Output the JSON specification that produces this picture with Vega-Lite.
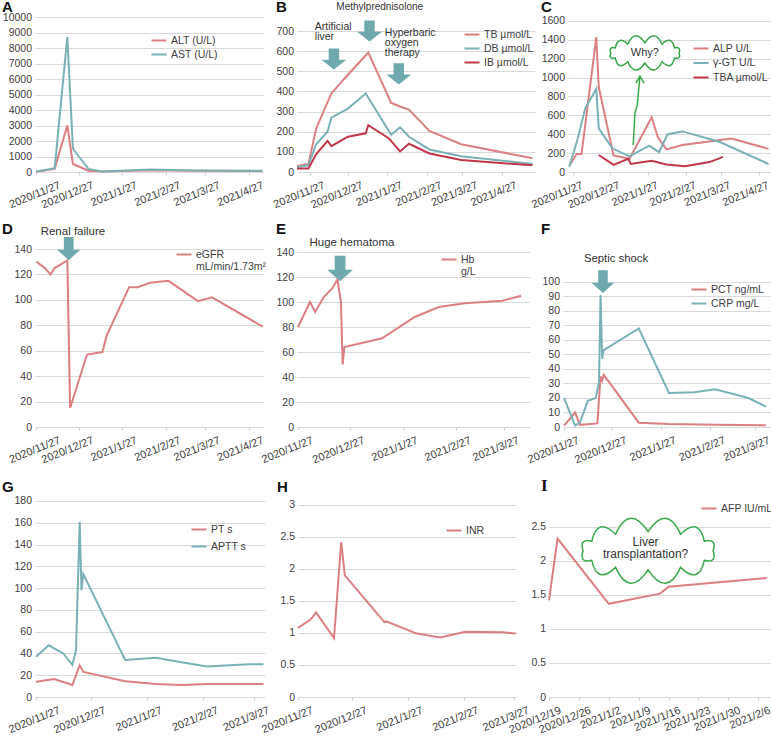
{
  "$schema": "https://vega.github.io/schema/vega-lite/v6.json",
  "padding": {"left": 2, "top": 0, "right": 0, "bottom": 0},
  "spacing": 12,
  "resolve": {"scale": {"color": "independent"}, "legend": {"color": "independent"}},
  "config": {
    "view": {"stroke": null},
    "font": "Liberation Sans, Arial, sans-serif",
    "axis": {"labelFont": "Liberation Sans, Arial, sans-serif", "labelColor": "#404040", "labelOverlap": false, "labelFlush": false, "labelBound": false, "domain": false, "gridColor": "#d9d9d9", "gridWidth": 1, "tickColor": "#cfcfcf"},
    "axisX": {"grid": false, "ticks": true, "tickSize": 3, "labelFontSize": 11, "labelAngle": -22, "labelAlign": "right", "labelBaseline": "top", "labelPadding": 4, "labelOffset": 12},
    "axisY": {"grid": true, "ticks": false, "labelFontSize": 10.5, "labelPadding": 3.5},
    "legend": {"orient": "none", "symbolType": "stroke", "symbolSize": 225, "symbolStrokeWidth": 2.5, "labelFont": "Liberation Sans, Arial, sans-serif", "labelFontSize": 10.5, "labelColor": "#404040", "labelOffset": 3.5, "padding": 0, "labelLimit": 200},
    "title": {"anchor": "start", "frame": "group", "baseline": "alphabetic", "font": "Liberation Sans", "fontSize": 15, "fontWeight": "bold", "color": "#111111"},
    "line": {"strokeWidth": 2},
    "text": {"font": "Liberation Sans, Arial, sans-serif", "fontSize": 11, "color": "#333333"}
  },
  "datasets": {
    "A": [
      {"date": "2020-11-27", "series": "ALT (U/L)", "value": 20},
      {"date": "2020-12-10", "series": "ALT (U/L)", "value": 200},
      {"date": "2020-12-19", "series": "ALT (U/L)", "value": 3000},
      {"date": "2020-12-23", "series": "ALT (U/L)", "value": 520},
      {"date": "2021-01-03", "series": "ALT (U/L)", "value": 80},
      {"date": "2021-01-13", "series": "ALT (U/L)", "value": 30},
      {"date": "2021-02-16", "series": "ALT (U/L)", "value": 120},
      {"date": "2021-03-20", "series": "ALT (U/L)", "value": 80},
      {"date": "2021-05-07", "series": "ALT (U/L)", "value": 60},
      {"date": "2020-11-27", "series": "AST (U/L)", "value": 30},
      {"date": "2020-12-10", "series": "AST (U/L)", "value": 250},
      {"date": "2020-12-19", "series": "AST (U/L)", "value": 8700},
      {"date": "2020-12-23", "series": "AST (U/L)", "value": 1500},
      {"date": "2021-01-03", "series": "AST (U/L)", "value": 200},
      {"date": "2021-01-13", "series": "AST (U/L)", "value": 40},
      {"date": "2021-02-16", "series": "AST (U/L)", "value": 160},
      {"date": "2021-03-20", "series": "AST (U/L)", "value": 100},
      {"date": "2021-05-07", "series": "AST (U/L)", "value": 80}
    ],
    "B": [
      {"date": "2020-11-17", "series": "TB µmol/L", "value": 30},
      {"date": "2020-11-26", "series": "TB µmol/L", "value": 40},
      {"date": "2020-12-02", "series": "TB µmol/L", "value": 215},
      {"date": "2020-12-14", "series": "TB µmol/L", "value": 390},
      {"date": "2020-12-27", "series": "TB µmol/L", "value": 483},
      {"date": "2021-01-12", "series": "TB µmol/L", "value": 593},
      {"date": "2021-01-30", "series": "TB µmol/L", "value": 343},
      {"date": "2021-02-06", "series": "TB µmol/L", "value": 325},
      {"date": "2021-02-13", "series": "TB µmol/L", "value": 310},
      {"date": "2021-03-01", "series": "TB µmol/L", "value": 204},
      {"date": "2021-03-26", "series": "TB µmol/L", "value": 138},
      {"date": "2021-05-21", "series": "TB µmol/L", "value": 68},
      {"date": "2020-11-17", "series": "DB µmol/L", "value": 25},
      {"date": "2020-11-26", "series": "DB µmol/L", "value": 33},
      {"date": "2020-12-02", "series": "DB µmol/L", "value": 138},
      {"date": "2020-12-11", "series": "DB µmol/L", "value": 200},
      {"date": "2020-12-14", "series": "DB µmol/L", "value": 270},
      {"date": "2020-12-27", "series": "DB µmol/L", "value": 315},
      {"date": "2021-01-10", "series": "DB µmol/L", "value": 390},
      {"date": "2021-01-30", "series": "DB µmol/L", "value": 185},
      {"date": "2021-02-06", "series": "DB µmol/L", "value": 222},
      {"date": "2021-02-13", "series": "DB µmol/L", "value": 175},
      {"date": "2021-03-01", "series": "DB µmol/L", "value": 112},
      {"date": "2021-03-26", "series": "DB µmol/L", "value": 78},
      {"date": "2021-05-21", "series": "DB µmol/L", "value": 40},
      {"date": "2020-11-17", "series": "IB µmol/L", "value": 18},
      {"date": "2020-11-26", "series": "IB µmol/L", "value": 18},
      {"date": "2020-12-02", "series": "IB µmol/L", "value": 88},
      {"date": "2020-12-11", "series": "IB µmol/L", "value": 155},
      {"date": "2020-12-14", "series": "IB µmol/L", "value": 128},
      {"date": "2020-12-27", "series": "IB µmol/L", "value": 175},
      {"date": "2021-01-10", "series": "IB µmol/L", "value": 192},
      {"date": "2021-01-12", "series": "IB µmol/L", "value": 232},
      {"date": "2021-01-28", "series": "IB µmol/L", "value": 168},
      {"date": "2021-02-06", "series": "IB µmol/L", "value": 102},
      {"date": "2021-02-13", "series": "IB µmol/L", "value": 140},
      {"date": "2021-03-01", "series": "IB µmol/L", "value": 92},
      {"date": "2021-03-26", "series": "IB µmol/L", "value": 60},
      {"date": "2021-05-21", "series": "IB µmol/L", "value": 33}
    ],
    "C": [
      {"date": "2020-11-24", "series": "ALP U/L", "value": 67},
      {"date": "2020-11-30", "series": "ALP U/L", "value": 190},
      {"date": "2020-12-04", "series": "ALP U/L", "value": 190},
      {"date": "2020-12-16", "series": "ALP U/L", "value": 1430},
      {"date": "2020-12-18", "series": "ALP U/L", "value": 900},
      {"date": "2020-12-30", "series": "ALP U/L", "value": 175},
      {"date": "2021-01-12", "series": "ALP U/L", "value": 140},
      {"date": "2021-01-30", "series": "ALP U/L", "value": 580},
      {"date": "2021-02-04", "series": "ALP U/L", "value": 370},
      {"date": "2021-02-11", "series": "ALP U/L", "value": 240},
      {"date": "2021-02-24", "series": "ALP U/L", "value": 285},
      {"date": "2021-04-05", "series": "ALP U/L", "value": 355},
      {"date": "2021-05-05", "series": "ALP U/L", "value": 245},
      {"date": "2020-11-24", "series": "γ-GT U/L", "value": 55},
      {"date": "2020-12-01", "series": "γ-GT U/L", "value": 357},
      {"date": "2020-12-07", "series": "γ-GT U/L", "value": 674},
      {"date": "2020-12-16", "series": "γ-GT U/L", "value": 880},
      {"date": "2020-12-18", "series": "γ-GT U/L", "value": 463},
      {"date": "2020-12-29", "series": "γ-GT U/L", "value": 251},
      {"date": "2021-01-12", "series": "γ-GT U/L", "value": 165},
      {"date": "2021-01-28", "series": "γ-GT U/L", "value": 280},
      {"date": "2021-02-05", "series": "γ-GT U/L", "value": 210},
      {"date": "2021-02-12", "series": "γ-GT U/L", "value": 400},
      {"date": "2021-02-24", "series": "γ-GT U/L", "value": 430},
      {"date": "2021-03-26", "series": "γ-GT U/L", "value": 320},
      {"date": "2021-05-05", "series": "γ-GT U/L", "value": 85},
      {"date": "2020-12-18", "series": "TBA µmol/L", "value": 180},
      {"date": "2020-12-30", "series": "TBA µmol/L", "value": 75},
      {"date": "2021-01-11", "series": "TBA µmol/L", "value": 140},
      {"date": "2021-01-13", "series": "TBA µmol/L", "value": 85},
      {"date": "2021-01-30", "series": "TBA µmol/L", "value": 120},
      {"date": "2021-02-11", "series": "TBA µmol/L", "value": 80},
      {"date": "2021-02-26", "series": "TBA µmol/L", "value": 60},
      {"date": "2021-03-18", "series": "TBA µmol/L", "value": 105},
      {"date": "2021-03-29", "series": "TBA µmol/L", "value": 160}
    ],
    "D": [
      {"date": "2020-11-27", "series": "eGFR|mL/min/1.73m²", "value": 130},
      {"date": "2020-12-03", "series": "eGFR|mL/min/1.73m²", "value": 125},
      {"date": "2020-12-07", "series": "eGFR|mL/min/1.73m²", "value": 120},
      {"date": "2020-12-10", "series": "eGFR|mL/min/1.73m²", "value": 125},
      {"date": "2020-12-19", "series": "eGFR|mL/min/1.73m²", "value": 131},
      {"date": "2020-12-21", "series": "eGFR|mL/min/1.73m²", "value": 15},
      {"date": "2021-01-02", "series": "eGFR|mL/min/1.73m²", "value": 57},
      {"date": "2021-01-13", "series": "eGFR|mL/min/1.73m²", "value": 59},
      {"date": "2021-01-16", "series": "eGFR|mL/min/1.73m²", "value": 72},
      {"date": "2021-02-01", "series": "eGFR|mL/min/1.73m²", "value": 110},
      {"date": "2021-02-07", "series": "eGFR|mL/min/1.73m²", "value": 110},
      {"date": "2021-02-16", "series": "eGFR|mL/min/1.73m²", "value": 113.5},
      {"date": "2021-03-01", "series": "eGFR|mL/min/1.73m²", "value": 115},
      {"date": "2021-03-22", "series": "eGFR|mL/min/1.73m²", "value": 99},
      {"date": "2021-04-01", "series": "eGFR|mL/min/1.73m²", "value": 102},
      {"date": "2021-05-07", "series": "eGFR|mL/min/1.73m²", "value": 79}
    ],
    "E": [
      {"date": "2020-11-27", "series": "Hb|g/L", "value": 80},
      {"date": "2020-12-04", "series": "Hb|g/L", "value": 100},
      {"date": "2020-12-07", "series": "Hb|g/L", "value": 92},
      {"date": "2020-12-12", "series": "Hb|g/L", "value": 104},
      {"date": "2020-12-17", "series": "Hb|g/L", "value": 111},
      {"date": "2020-12-20", "series": "Hb|g/L", "value": 118},
      {"date": "2020-12-22", "series": "Hb|g/L", "value": 100},
      {"date": "2020-12-23", "series": "Hb|g/L", "value": 50},
      {"date": "2020-12-24", "series": "Hb|g/L", "value": 64},
      {"date": "2021-01-15", "series": "Hb|g/L", "value": 71},
      {"date": "2021-02-03", "series": "Hb|g/L", "value": 88},
      {"date": "2021-02-17", "series": "Hb|g/L", "value": 96},
      {"date": "2021-03-04", "series": "Hb|g/L", "value": 99},
      {"date": "2021-03-26", "series": "Hb|g/L", "value": 101},
      {"date": "2021-04-06", "series": "Hb|g/L", "value": 105}
    ],
    "F": [
      {"date": "2020-11-27", "series": "PCT ng/mL", "value": 1},
      {"date": "2020-12-04", "series": "PCT ng/mL", "value": 10},
      {"date": "2020-12-07", "series": "PCT ng/mL", "value": 1.5},
      {"date": "2020-12-18", "series": "PCT ng/mL", "value": 2.5},
      {"date": "2020-12-20", "series": "PCT ng/mL", "value": 35},
      {"date": "2020-12-21", "series": "PCT ng/mL", "value": 32},
      {"date": "2020-12-22", "series": "PCT ng/mL", "value": 36},
      {"date": "2021-01-13", "series": "PCT ng/mL", "value": 3},
      {"date": "2021-02-01", "series": "PCT ng/mL", "value": 2},
      {"date": "2021-03-03", "series": "PCT ng/mL", "value": 1.5},
      {"date": "2021-04-03", "series": "PCT ng/mL", "value": 1.2},
      {"date": "2020-11-27", "series": "CRP mg/L", "value": 20},
      {"date": "2020-12-04", "series": "CRP mg/L", "value": 1},
      {"date": "2020-12-07", "series": "CRP mg/L", "value": 3},
      {"date": "2020-12-12", "series": "CRP mg/L", "value": 18},
      {"date": "2020-12-17", "series": "CRP mg/L", "value": 20},
      {"date": "2020-12-19", "series": "CRP mg/L", "value": 31},
      {"date": "2020-12-20", "series": "CRP mg/L", "value": 91},
      {"date": "2020-12-21", "series": "CRP mg/L", "value": 47},
      {"date": "2020-12-22", "series": "CRP mg/L", "value": 53},
      {"date": "2021-01-13", "series": "CRP mg/L", "value": 68},
      {"date": "2021-02-01", "series": "CRP mg/L", "value": 23.5},
      {"date": "2021-02-17", "series": "CRP mg/L", "value": 24},
      {"date": "2021-03-02", "series": "CRP mg/L", "value": 26},
      {"date": "2021-03-23", "series": "CRP mg/L", "value": 20},
      {"date": "2021-04-03", "series": "CRP mg/L", "value": 14}
    ],
    "G": [
      {"date": "2020-11-27", "series": "PT s", "value": 14},
      {"date": "2020-12-07", "series": "PT s", "value": 16.5},
      {"date": "2020-12-17", "series": "PT s", "value": 11},
      {"date": "2020-12-21", "series": "PT s", "value": 29},
      {"date": "2020-12-23", "series": "PT s", "value": 23},
      {"date": "2021-01-15", "series": "PT s", "value": 14.5},
      {"date": "2021-02-01", "series": "PT s", "value": 12},
      {"date": "2021-02-15", "series": "PT s", "value": 11},
      {"date": "2021-03-01", "series": "PT s", "value": 12},
      {"date": "2021-04-01", "series": "PT s", "value": 12},
      {"date": "2020-11-27", "series": "APTT s", "value": 37},
      {"date": "2020-12-04", "series": "APTT s", "value": 47.5},
      {"date": "2020-12-12", "series": "APTT s", "value": 40},
      {"date": "2020-12-17", "series": "APTT s", "value": 29.5},
      {"date": "2020-12-19", "series": "APTT s", "value": 43},
      {"date": "2020-12-21", "series": "APTT s", "value": 161},
      {"date": "2020-12-22", "series": "APTT s", "value": 98},
      {"date": "2020-12-23", "series": "APTT s", "value": 113},
      {"date": "2021-01-15", "series": "APTT s", "value": 34},
      {"date": "2021-02-01", "series": "APTT s", "value": 36},
      {"date": "2021-02-15", "series": "APTT s", "value": 32},
      {"date": "2021-03-01", "series": "APTT s", "value": 28},
      {"date": "2021-03-24", "series": "APTT s", "value": 30},
      {"date": "2021-04-01", "series": "APTT s", "value": 30}
    ],
    "H": [
      {"date": "2020-11-27", "series": "INR", "value": 1.08},
      {"date": "2020-12-04", "series": "INR", "value": 1.21},
      {"date": "2020-12-07", "series": "INR", "value": 1.32},
      {"date": "2020-12-17", "series": "INR", "value": 0.92},
      {"date": "2020-12-21", "series": "INR", "value": 2.42},
      {"date": "2020-12-23", "series": "INR", "value": 1.9},
      {"date": "2021-01-14", "series": "INR", "value": 1.17},
      {"date": "2021-01-15", "series": "INR", "value": 1.18},
      {"date": "2021-02-01", "series": "INR", "value": 0.99},
      {"date": "2021-02-14", "series": "INR", "value": 0.93},
      {"date": "2021-02-28", "series": "INR", "value": 1.02},
      {"date": "2021-03-21", "series": "INR", "value": 1.01},
      {"date": "2021-03-28", "series": "INR", "value": 0.99}
    ],
    "I": [
      {"date": "2020-12-19", "series": "AFP IU/mL", "value": 1.42},
      {"date": "2020-12-21", "series": "AFP IU/mL", "value": 2.33},
      {"date": "2021-01-02", "series": "AFP IU/mL", "value": 1.37},
      {"date": "2021-01-14", "series": "AFP IU/mL", "value": 1.52},
      {"date": "2021-01-16", "series": "AFP IU/mL", "value": 1.62},
      {"date": "2021-02-08", "series": "AFP IU/mL", "value": 1.75}
    ]
  },
  "vconcat": [
    {
      "bounds": "flush",
      "spacing": 33,
      "resolve": {"scale": {"color": "independent"}, "legend": {"color": "independent"}},
      "hconcat": [
        {
          "width": 229, "height": 172,
          "title": {"text": "A", "dx": -33, "offset": -15},
          "encoding": {
            "x": {"field": "date", "type": "temporal", "title": null,
              "scale": {"type": "utc", "nice": false, "domain": [{"year": 2020, "month": 11, "date": 26, "utc": true}, {"year": 2021, "month": 5, "date": 8, "utc": true}]},
              "axis": {"labelExpr": "utcFormat(datum.value, '%Y/%-m/%-d')", "labelOffset": {"condition": {"test": "datum.index === 0", "value": 21}, "value": 12}, "values": [{"year": 2020, "month": 11, "date": 27, "utc": true}, {"year": 2020, "month": 12, "date": 27, "utc": true}, {"year": 2021, "month": 1, "date": 27, "utc": true}, {"year": 2021, "month": 2, "date": 27, "utc": true}, {"year": 2021, "month": 3, "date": 27, "utc": true}, {"year": 2021, "month": 4, "date": 27, "utc": true}]}},
            "y": {"field": "value", "type": "quantitative", "title": null, "scale": {"domain": [0, 11097], "nice": false},
              "axis": {"format": "d", "values": [0, 1000, 2000, 3000, 4000, 5000, 6000, 7000, 8000, 9000, 10000]}}
          },
          "layer": [
            {"data": {"name": "A"}, "mark": "line",
              "encoding": {"color": {"field": "series", "type": "nominal", "scale": {"domain": ["ALT (U/L)", "AST (U/L)"], "range": ["#db7f82", "#7ab1b6"]}, "legend": {"title": null, "legendX": 115.5, "legendY": 32, "rowPadding": -4}}}}
          ]
        },
        {
          "width": 238, "height": 172,
          "title": {"text": "B", "dx": -21, "offset": -15},
          "encoding": {
            "x": {"field": "date", "type": "temporal", "title": null,
              "scale": {"type": "utc", "nice": false, "domain": [{"year": 2020, "month": 11, "date": 17, "utc": true}, {"year": 2021, "month": 5, "date": 23, "utc": true}]},
              "axis": {"labelExpr": "utcFormat(datum.value, '%Y/%-m/%-d')", "values": [{"year": 2020, "month": 11, "date": 27, "utc": true}, {"year": 2020, "month": 12, "date": 27, "utc": true}, {"year": 2021, "month": 1, "date": 27, "utc": true}, {"year": 2021, "month": 2, "date": 27, "utc": true}, {"year": 2021, "month": 3, "date": 27, "utc": true}, {"year": 2021, "month": 4, "date": 27, "utc": true}]}},
            "y": {"field": "value", "type": "quantitative", "title": null, "scale": {"domain": [0, 854], "nice": false},
              "axis": {"format": "d", "values": [0, 100, 200, 300, 400, 500, 600, 700]}}
          },
          "layer": [
            {"data": {"name": "B"}, "mark": "line",
              "encoding": {"color": {"field": "series", "type": "nominal", "scale": {"domain": ["TB µmol/L", "DB µmol/L", "IB µmol/L"], "range": ["#db7f82", "#7ab1b6", "#c0364a"]}, "legend": {"title": null, "legendX": 166.5, "legendY": 26, "rowPadding": -4}}}},
            {"data": {"values": [
                {"date": "2021-01-13", "value": 700},
                {"date": "2020-12-16", "value": 561},
                {"date": "2021-02-05", "value": 487}
              ]},
              "mark": {"type": "point", "shape": "M-0.42,-0.85L0.42,-0.85L0.42,0.05L1,0.05L0,0.85L-1,0.05L-0.42,0.05Z", "size": 620, "filled": true, "fill": "#6fa9ad", "strokeWidth": 0, "opacity": 1},
              "encoding": {}},
            {"data": {"values": [{"date": "2021-01-21", "value": 819, "label": "Methylprednisolone"}]},
              "mark": {"type": "text", "align": "center", "baseline": "middle", "fontSize": 10},
              "encoding": {"text": {"field": "label"}}},
            {"data": {"values": [
                {"date": "2020-12-01", "value": 745, "label": "Artificial|liver"},
                {"date": "2021-01-25", "value": 715, "label": "Hyperbaric|oxygen|\u00a0therapy"}
              ]},
              "mark": {"type": "text", "align": "left", "baseline": "top", "fontSize": 10.5, "lineBreak": "|", "lineHeight": 10},
              "encoding": {"text": {"field": "label"}}}
          ]
        },
        {
          "width": 203, "height": 172,
          "title": {"text": "C", "dx": -27, "offset": -15},
          "encoding": {
            "x": {"field": "date", "type": "temporal", "title": null,
              "scale": {"type": "utc", "nice": false, "domain": [{"year": 2020, "month": 11, "date": 23, "utc": true}, {"year": 2021, "month": 5, "date": 7, "utc": true}]},
              "axis": {"labelExpr": "utcFormat(datum.value, '%Y/%-m/%-d')", "labelOffset": 7, "values": [{"year": 2020, "month": 11, "date": 27, "utc": true}, {"year": 2020, "month": 12, "date": 27, "utc": true}, {"year": 2021, "month": 1, "date": 27, "utc": true}, {"year": 2021, "month": 2, "date": 27, "utc": true}, {"year": 2021, "month": 3, "date": 27, "utc": true}, {"year": 2021, "month": 4, "date": 27, "utc": true}]}},
            "y": {"field": "value", "type": "quantitative", "title": null, "scale": {"domain": [0, 1822], "nice": false},
              "axis": {"format": "d", "values": [0, 200, 400, 600, 800, 1000, 1200, 1400, 1600]}}
          },
          "layer": [
            {"data": {"name": "C"}, "mark": "line",
              "encoding": {"color": {"field": "series", "type": "nominal", "scale": {"domain": ["ALP U/L", "γ-GT U/L", "TBA µmol/L"], "range": ["#db7f82", "#7ab1b6", "#c0364a"]}, "legend": {"title": null, "legendX": 124.5, "legendY": 40, "rowPadding": 0.5}}}},
            {"data": {"values": [
                {"date": "2021-01-15", "value": 286},
                {"date": "2021-01-16T10:00:00Z", "value": 622},
                {"date": "2021-01-18T07:00:00Z", "value": 710},
                {"date": "2021-01-20T12:00:00Z", "value": 1017}
              ]},
              "mark": {"type": "line", "color": "#3aa84a", "strokeWidth": 1.5},
              "encoding": {}},
            {"data": {"values": [{"date": "2021-01-20T12:00:00Z", "value": 1017}]},
              "mark": {"type": "point", "shape": "M-1,1.8L0,0L1,1.8", "size": 64, "filled": false, "color": "#3aa84a", "strokeWidth": 1.5, "opacity": 1},
              "encoding": {}},
            {"data": {"values": [{"date": "2021-01-24T12:00:00Z", "value": 1261}]},
              "mark": {"type": "point", "shape": "M0.85,0Q0.905,0.165 0.736,0.125Q0.663,0.451 0.425,0.217Q0.243,0.616 0,0.25Q-0.243,0.616 -0.425,0.217Q-0.663,0.451 -0.736,0.125Q-0.905,0.165 -0.85,0Q-0.905,-0.165 -0.736,-0.125Q-0.663,-0.451 -0.425,-0.217Q-0.243,-0.616 0,-0.25Q0.243,-0.616 0.425,-0.217Q0.663,-0.451 0.736,-0.125Q0.905,-0.165 0.85,0Z", "size": 6480, "filled": true, "fill": "#ffffff", "stroke": "#3aa84a", "strokeWidth": 1.5, "opacity": 1},
              "encoding": {}},
            {"data": {"values": [{"date": "2021-01-24T12:00:00Z", "value": 1258, "label": "Why?"}]},
              "mark": {"type": "text", "align": "center", "baseline": "middle", "fontSize": 11},
              "encoding": {"text": {"field": "label"}}}
          ]
        }
      ]
    },
    {
      "bounds": "flush",
      "spacing": 33,
      "resolve": {"scale": {"color": "independent"}, "legend": {"color": "independent"}},
      "hconcat": [
        {
          "width": 229, "height": 202,
          "title": {"text": "D", "dx": -33, "offset": -12},
          "encoding": {
            "x": {"field": "date", "type": "temporal", "title": null,
              "scale": {"type": "utc", "nice": false, "domain": [{"year": 2020, "month": 11, "date": 26, "utc": true}, {"year": 2021, "month": 5, "date": 8, "utc": true}]},
              "axis": {"labelExpr": "utcFormat(datum.value, '%Y/%-m/%-d')", "labelOffset": {"condition": {"test": "datum.index === 0", "value": 21}, "value": 12}, "values": [{"year": 2020, "month": 11, "date": 27, "utc": true}, {"year": 2020, "month": 12, "date": 27, "utc": true}, {"year": 2021, "month": 1, "date": 27, "utc": true}, {"year": 2021, "month": 2, "date": 27, "utc": true}, {"year": 2021, "month": 3, "date": 27, "utc": true}, {"year": 2021, "month": 4, "date": 27, "utc": true}]}},
            "y": {"field": "value", "type": "quantitative", "title": null, "scale": {"domain": [0, 158.9], "nice": false},
              "axis": {"format": "d", "values": [0, 20, 40, 60, 80, 100, 120, 140]}}
          },
          "layer": [
            {"data": {"name": "D"}, "mark": "line",
              "encoding": {"color": {"field": "series", "type": "nominal", "scale": {"domain": ["eGFR|mL/min/1.73m²"], "range": ["#db7f82"]}, "legend": {"title": null, "legendX": 140.5, "legendY": 21, "labelExpr": "split(datum.label, '|')"}}}},
            {"data": {"values": [{"date": "2020-12-20", "value": 140.4}]},
              "mark": {"type": "point", "shape": "M-0.42,-1L0.42,-1L0.42,0.1L1,0.1L0,1L-1,0.1L-0.42,0.1Z", "size": 540, "filled": true, "fill": "#6fa9ad", "strokeWidth": 0, "opacity": 1},
              "encoding": {}},
            {"data": {"values": [{"date": "2020-12-23", "value": 153.4, "label": "Renal failure"}]},
              "mark": {"type": "text", "align": "center", "baseline": "middle", "fontSize": 11.5},
              "encoding": {"text": {"field": "label"}}}
          ]
        },
        {
          "width": 233, "height": 202,
          "title": {"text": "E", "dx": -21, "offset": -12},
          "encoding": {
            "x": {"field": "date", "type": "temporal", "title": null,
              "scale": {"type": "utc", "nice": false, "domain": [{"year": 2020, "month": 11, "date": 26, "hours": 10, "utc": true}, {"year": 2021, "month": 4, "date": 11, "hours": 3, "utc": true}]},
              "axis": {"labelExpr": "utcFormat(datum.value, '%Y/%-m/%-d')", "values": [{"year": 2020, "month": 11, "date": 27, "utc": true}, {"year": 2020, "month": 12, "date": 27, "utc": true}, {"year": 2021, "month": 1, "date": 27, "utc": true}, {"year": 2021, "month": 2, "date": 27, "utc": true}, {"year": 2021, "month": 3, "date": 27, "utc": true}]}},
            "y": {"field": "value", "type": "quantitative", "title": null, "scale": {"domain": [0, 161.6], "nice": false},
              "axis": {"format": "d", "values": [0, 20, 40, 60, 80, 100, 120, 140]}}
          },
          "layer": [
            {"data": {"name": "E"}, "mark": "line",
              "encoding": {"color": {"field": "series", "type": "nominal", "scale": {"domain": ["Hb|g/L"], "range": ["#db7f82"]}, "legend": {"title": null, "legendX": 143.5, "legendY": 26, "labelExpr": "split(datum.label, '|')"}}}},
            {"data": {"values": [{"date": "2020-12-21T12:00:00Z", "value": 126.8}]},
              "mark": {"type": "point", "shape": "M-0.42,-1L0.42,-1L0.42,0.1L1,0.1L0,1L-1,0.1L-0.42,0.1Z", "size": 660, "filled": true, "fill": "#6fa9ad", "strokeWidth": 0, "opacity": 1},
              "encoding": {}},
            {"data": {"values": [{"date": "2020-12-28T10:00:00Z", "value": 147.2, "label": "Huge hematoma"}]},
              "mark": {"type": "text", "align": "center", "baseline": "middle", "fontSize": 11.5},
              "encoding": {"text": {"field": "label"}}}
          ]
        },
        {
          "width": 208, "height": 202,
          "title": {"text": "F", "dx": -22, "offset": -12},
          "encoding": {
            "x": {"field": "date", "type": "temporal", "title": null,
              "scale": {"type": "utc", "nice": false, "domain": [{"year": 2020, "month": 11, "date": 26, "hours": 9, "utc": true}, {"year": 2021, "month": 4, "date": 6, "hours": 4, "utc": true}]},
              "axis": {"labelExpr": "utcFormat(datum.value, '%Y/%-m/%-d')", "values": [{"year": 2020, "month": 11, "date": 27, "utc": true}, {"year": 2020, "month": 12, "date": 27, "utc": true}, {"year": 2021, "month": 1, "date": 27, "utc": true}, {"year": 2021, "month": 2, "date": 27, "utc": true}, {"year": 2021, "month": 3, "date": 27, "utc": true}]}},
            "y": {"field": "value", "type": "quantitative", "title": null, "scale": {"domain": [0, 139.3], "nice": false},
              "axis": {"format": "d", "values": [0, 10, 20, 30, 40, 50, 60, 70, 80, 90, 100]}}
          },
          "layer": [
            {"data": {"name": "F"}, "mark": "line",
              "encoding": {"color": {"field": "series", "type": "nominal", "scale": {"domain": ["PCT ng/mL", "CRP mg/L"], "range": ["#db7f82", "#7ab1b6"]}, "legend": {"title": null, "legendX": 127.5, "legendY": 56, "rowPadding": -1}}}},
            {"data": {"values": [{"date": "2020-12-21T12:00:00Z", "value": 100.3}]},
              "mark": {"type": "point", "shape": "M-0.42,-1L0.42,-1L0.42,0.1L1,0.1L0,1L-1,0.1L-0.42,0.1Z", "size": 520, "filled": true, "fill": "#6fa9ad", "strokeWidth": 0, "opacity": 1},
              "encoding": {}},
            {"data": {"values": [{"date": "2020-12-29T17:00:00Z", "value": 115.9, "label": "Septic shock"}]},
              "mark": {"type": "text", "align": "center", "baseline": "middle", "fontSize": 11.3},
              "encoding": {"text": {"field": "label"}}}
          ]
        }
      ]
    },
    {
      "bounds": "flush",
      "spacing": 33,
      "resolve": {"scale": {"color": "independent"}, "legend": {"color": "independent"}},
      "hconcat": [
        {
          "width": 230, "height": 219,
          "title": {"text": "G", "dx": -33, "offset": -17},
          "encoding": {
            "x": {"field": "date", "type": "temporal", "title": null,
              "scale": {"type": "utc", "nice": false, "domain": [{"year": 2020, "month": 11, "date": 26, "hours": 11, "utc": true}, {"year": 2021, "month": 4, "date": 1, "hours": 20, "utc": true}]},
              "axis": {"labelExpr": "utcFormat(datum.value, '%Y/%-m/%-d')", "labelOffset": {"condition": {"test": "datum.index === 0", "value": 21}, "value": 12}, "values": [{"year": 2020, "month": 11, "date": 27, "utc": true}, {"year": 2020, "month": 12, "date": 27, "utc": true}, {"year": 2021, "month": 1, "date": 27, "utc": true}, {"year": 2021, "month": 2, "date": 27, "utc": true}, {"year": 2021, "month": 3, "date": 27, "utc": true}]}},
            "y": {"field": "value", "type": "quantitative", "title": null, "scale": {"domain": [0, 201.1], "nice": false},
              "axis": {"format": "d", "values": [0, 20, 40, 60, 80, 100, 120, 140, 160, 180]}}
          },
          "layer": [
            {"data": {"name": "G"}, "mark": "line",
              "encoding": {"color": {"field": "series", "type": "nominal", "scale": {"domain": ["PT s", "APTT s"], "range": ["#db7f82", "#7ab1b6"]}, "legend": {"title": null, "legendX": 155.5, "legendY": 43, "rowPadding": 3}}}}
          ]
        },
        {
          "width": 218, "height": 219,
          "title": {"text": "H", "dx": -21, "offset": -17},
          "encoding": {
            "x": {"field": "date", "type": "temporal", "title": null,
              "scale": {"type": "utc", "nice": false, "domain": [{"year": 2020, "month": 11, "date": 27, "utc": true}, {"year": 2021, "month": 3, "date": 28, "hours": 2, "utc": true}]},
              "axis": {"labelExpr": "utcFormat(datum.value, '%Y/%-m/%-d')", "values": [{"year": 2020, "month": 11, "date": 27, "utc": true}, {"year": 2020, "month": 12, "date": 27, "utc": true}, {"year": 2021, "month": 1, "date": 27, "utc": true}, {"year": 2021, "month": 2, "date": 27, "utc": true}, {"year": 2021, "month": 3, "date": 27, "utc": true}]}},
            "y": {"field": "value", "type": "quantitative", "title": null, "scale": {"domain": [0, 3.42], "nice": false},
              "axis": {"format": ".1~f", "values": [0, 0.5, 1, 1.5, 2, 2.5, 3]}}
          },
          "layer": [
            {"data": {"name": "H"}, "mark": "line",
              "encoding": {"color": {"field": "series", "type": "nominal", "scale": {"domain": ["INR"], "range": ["#db7f82"]}, "legend": {"title": null, "legendX": 147.5, "legendY": 44}}}}
          ]
        },
        {
          "width": 222, "height": 219,
          "title": {"text": "I", "dx": -8, "offset": -17, "font": "Liberation Serif", "fontSize": 17},
          "encoding": {
            "x": {"field": "date", "type": "temporal", "title": null,
              "scale": {"type": "utc", "nice": false, "domain": [{"year": 2020, "month": 12, "date": 19, "utc": true}, {"year": 2021, "month": 2, "date": 9, "utc": true}]},
              "axis": {"labelExpr": "utcFormat(datum.value, '%Y/%-m/%-d')", "labelOffset": 9, "values": [{"year": 2020, "month": 12, "date": 19, "utc": true}, {"year": 2020, "month": 12, "date": 26, "utc": true}, {"year": 2021, "month": 1, "date": 2, "utc": true}, {"year": 2021, "month": 1, "date": 9, "utc": true}, {"year": 2021, "month": 1, "date": 16, "utc": true}, {"year": 2021, "month": 1, "date": 23, "utc": true}, {"year": 2021, "month": 1, "date": 30, "utc": true}, {"year": 2021, "month": 2, "date": 6, "utc": true}]}},
            "y": {"field": "value", "type": "quantitative", "title": null, "scale": {"domain": [0, 3.22], "nice": false},
              "axis": {"format": ".1~f", "values": [0, 0.5, 1, 1.5, 2, 2.5]}}
          },
          "layer": [
            {"data": {"name": "I"}, "mark": "line",
              "encoding": {"color": {"field": "series", "type": "nominal", "scale": {"domain": ["AFP IU/mL"], "range": ["#db7f82"]}, "legend": {"title": null, "legendX": 151.5, "legendY": 22}}}},
            {"data": {"values": [{"date": "2021-01-11T05:00:00Z", "value": 2.15}]},
              "mark": {"type": "point", "shape": "M0.85,0Q0.905,0.165 0.736,0.125Q0.663,0.451 0.425,0.217Q0.243,0.616 0,0.25Q-0.243,0.616 -0.425,0.217Q-0.663,0.451 -0.736,0.125Q-0.905,0.165 -0.85,0Q-0.905,-0.165 -0.736,-0.125Q-0.663,-0.451 -0.425,-0.217Q-0.243,-0.616 0,-0.25Q0.243,-0.616 0.425,-0.217Q0.663,-0.451 0.736,-0.125Q0.905,-0.165 0.85,0Z", "size": 23400, "filled": true, "fill": "#ffffff", "stroke": "#3aa84a", "strokeWidth": 1.5, "opacity": 1},
              "encoding": {}},
            {"data": {"values": [{"date": "2021-01-10T15:00:00Z", "value": 2.35, "label": "Liver|transplantation?"}]},
              "mark": {"type": "text", "align": "center", "baseline": "top", "fontSize": 12, "lineBreak": "|", "lineHeight": 12},
              "encoding": {"text": {"field": "label"}}}
          ]
        }
      ]
    }
  ]
}
